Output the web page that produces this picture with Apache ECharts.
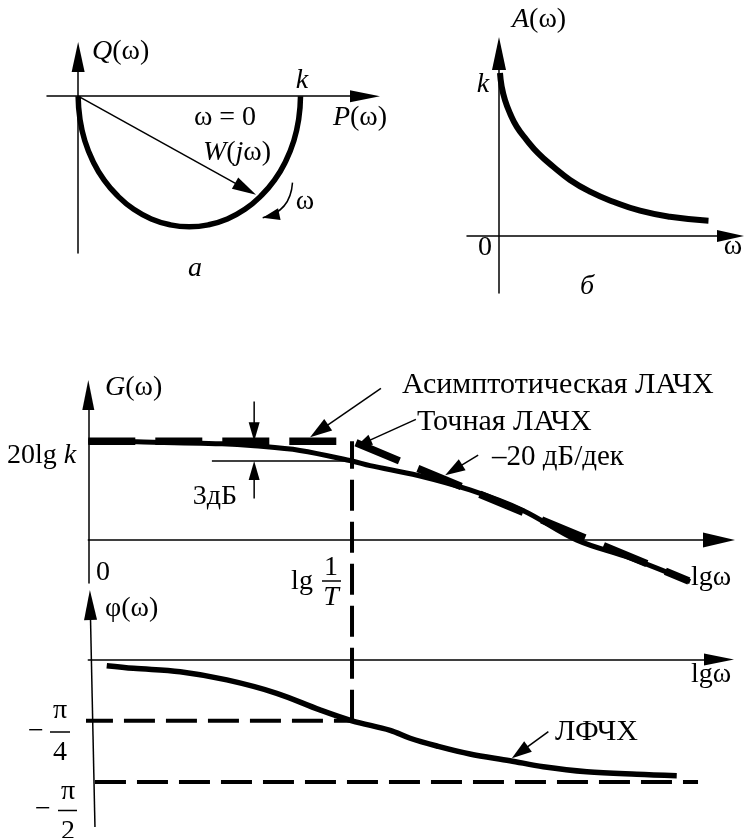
<!DOCTYPE html>
<html>
<head>
<meta charset="utf-8">
<script src="https://cdn.jsdelivr.net/npm/echarts@6/dist/echarts.min.js"></script>
<style>
  html, body { margin: 0; padding: 0; background: #fff; }
  #chart { width: 745px; height: 838px; }
</style>
</head>
<body>
<div id="chart"></div>
<script>
// ---------- а: годограф W(jω), P и Q в долях k ----------
const nyquistP = [0, 0.008, 0.030, 0.067, 0.117, 0.179, 0.250, 0.329, 0.413, 0.500,
                  0.587, 0.671, 0.750, 0.821, 0.883, 0.933, 0.970, 0.992, 1.0];
const nyquistQ = [0, -0.101, -0.199, -0.291, -0.375, -0.446, -0.505, -0.548, -0.574, -0.583,
                  -0.574, -0.548, -0.505, -0.446, -0.375, -0.291, -0.199, -0.101, 0];
const vectorW = [[0, 0], [0.80, -0.44]];
// direction of growing ω: start, end, control point
const omegaTurn = [[0.964, -0.386], [0.830, -0.543], [0.955, -0.516]];

// ---------- б: АЧХ A(ω), A в долях k ----------
const ampOmega = [0.02, 0.054, 0.12, 0.22, 0.354, 0.554, 0.786, 1.086, 1.42, 1.82, 2.286, 2.82, 3.42, 4.19];
const ampA     = [1.0, 0.916, 0.834, 0.753, 0.671, 0.589, 0.507, 0.425, 0.344, 0.272, 0.210, 0.155, 0.118, 0.094];

// ---------- ЛАЧХ G(ω), дБ; абсцисса lgω, декады ----------
const lgCorner = 0.83;   // lg(1/T)
const gainK = 15;        // 20 lg k
const drop3dB = 12;      // 20 lg k − 3 дБ
const asymLg = [0, lgCorner, 1.89];
const asymG  = [gainK, gainK, -6.2];
const exactLg = [0, 0.153, 0.421, 0.522, 0.666, 0.83, 0.887, 1.038, 1.201, 1.368, 1.538, 1.705, 1.894];
const exactG  = [15.0, 14.9, 14.6, 14.3, 13.6, 12.0, 11.3, 9.8, 7.6, 4.5, 0.0, -2.7, -6.3];
const markLg = 0.522;
const dbArrowTop    = [[markLg, 21.0], [markLg, gainK]];
const dbArrowBottom = [[markLg, 6.3], [markLg, drop3dB]];
const dbLevelLine   = [[0.389, drop3dB], [0.817, drop3dB]];
const asymPointer   = [[0.921, 23.0], [0.698, 15.6]];
const exactPointer  = [[1.031, 18.3], [0.843, 14.2]];
const slopePointer  = [[1.227, 12.9], [1.123, 9.85]];

// ---------- ЛФЧХ φ(ω), градусы ----------
const phaseLg  = [0.058, 0.142, 0.289, 0.436, 0.593, 0.729, 0.83, 0.950, 1.013, 1.097, 1.201, 1.327, 1.432, 1.569, 1.726, 1.852];
const phaseDeg = [-4.6, -6.5, -9.0, -15.0, -24.8, -37.0, -45, -52.0, -57.8, -63.5, -69.4, -74.3, -78.7, -82.4, -84.3, -85.3];
const quarterPi = -45, halfPi = -90;
const quarterLine = [[-0.02, quarterPi], [lgCorner, quarterPi]];
const halfLine    = [[0.021, halfPi], [1.919, halfPi]];
const phiAxis     = [[0.021, -123], [0.005, 51]];
const phasePointer = [[1.448, -53.0], [1.333, -72.5]];

const SERIF = '"Liberation Serif", "Times New Roman", serif';
const INK = '#000';
const FS = 28;

const zip = (xs, ys) => xs.map((x, i) => [x, ys[i]]);

function axis(gridIndex, min, max, arrow, show) {
  return {
    type: 'value', gridIndex, min, max,
    axisLine: { show: show !== false, onZero: true, symbol: ['none', 'triangle'],
                symbolSize: arrow, lineStyle: { color: INK, width: 1.5 } },
    axisTick: { show: false }, axisLabel: { show: false }, splitLine: { show: false }
  };
}

function curve(grid, data, width, extra) {
  return Object.assign({
    type: 'line', xAxisIndex: grid, yAxisIndex: grid, data, symbol: 'none',
    clip: false, silent: true, animation: false,
    lineStyle: { color: INK, width, cap: 'butt' }
  }, extra || {});
}

function dashed(grid, data, width, dash, id) {
  return curve(grid, data, width, {
    id, lineStyle: { color: INK, width, type: dash, cap: 'butt', join: 'miter' }
  });
}

// Arrow: thin shaft plus filled head; head = [length, width] in px
function arrow(grid, pts, head, width, curved) {
  return {
    type: 'custom', xAxisIndex: grid, yAxisIndex: grid, clip: false, silent: true,
    data: [pts.flat()],
    renderItem(params, api) {
      const a = api.coord([api.value(0), api.value(1)]);
      const b = api.coord([api.value(2), api.value(3)]);
      let from = a, shaft;
      if (curved) {
        const c = api.coord([api.value(4), api.value(5)]);
        from = c;
        shaft = { type: 'bezierCurve',
                  shape: { x1: a[0], y1: a[1], x2: b[0], y2: b[1], cpx1: c[0], cpy1: c[1] },
                  style: { stroke: INK, fill: null, lineWidth: width } };
      }
      const dx = b[0] - from[0], dy = b[1] - from[1];
      const L = Math.hypot(dx, dy), ux = dx / L, uy = dy / L;
      const bx = b[0] - ux * head[0], by = b[1] - uy * head[0];
      const nx = -uy * head[1] / 2, ny = ux * head[1] / 2;
      if (!curved) {
        shaft = { type: 'line',
                  shape: { x1: a[0], y1: a[1], x2: bx + ux * 2, y2: by + uy * 2 },
                  style: { stroke: INK, lineWidth: width } };
      }
      return { type: 'group', children: [
        shaft,
        { type: 'polygon', shape: { points: [[b[0], b[1]], [bx + nx, by + ny], [bx - nx, by - ny]] },
          style: { fill: INK } }
      ] };
    }
  };
}

function label(text, x, y, align, size) {
  const fs = size || FS;
  return { type: 'text', x, y, silent: true, z: 10,
    style: { text, x: 0, y: 0, fontFamily: SERIF, fontSize: fs, fill: INK,
             align: align || 'center', verticalAlign: 'middle',
             textAlign: align || 'center', textVerticalAlign: 'middle',
             rich: { i: { fontStyle: 'italic', fontFamily: SERIF, fontSize: fs, fill: INK } } } };
}
function bar(x1, x2, y) {
  return { type: 'line', silent: true, shape: { x1, y1: y, x2, y2: y },
           style: { stroke: INK, lineWidth: 1.5 } };
}

const chart = echarts.init(document.getElementById('chart'), null, { renderer: 'canvas' });

const option = {
  animation: false,
  backgroundColor: '#fff',
  grid: [
    { left: 47,   top: 57,   width: 318,   height: 196 },    // а
    { left: 467,  top: 53.5, width: 263.5, height: 239.5 },  // б
    { left: 88.3, top: 395,  width: 630.7, height: 188 },    // ЛАЧХ
    { left: 88.3, top: 605,  width: 630.7, height: 231.6 }   // ЛФЧХ
  ],
  xAxis: [
    axis(0, -0.14, 1.29, [12, 30]),
    axis(1, -0.64, 4.63, [12, 27]),
    axis(2, 0, 1.985, [15, 32]),
    axis(3, 0, 1.985, [12, 30])
  ],
  yAxis: [
    axis(0, -0.70, 0.175, [13, 30]),
    axis(1, -0.35, 1.12, [14, 33]),
    axis(2, -6.5, 22, [12, 30]),
    axis(3, -130, 40, [12, 30], false)
  ],
  series: [
    // а
    curve(0, zip(nyquistP, nyquistQ), 5.5, { smooth: true }),
    arrow(0, vectorW, [24, 13], 1.5),
    arrow(0, omegaTurn, [17, 12], 1.5, true),
    // б
    curve(1, zip(ampOmega, ampA), 6, { smooth: true }),
    // ЛАЧХ
    curve(2, zip(exactLg, exactG), 5, { smooth: 0.35 }),
    dashed(2, zip(asymLg, asymG), 7.5, [47, 20]),
    curve(2, dbLevelLine, 1.5),
    arrow(2, dbArrowTop, [19, 11], 1.5),
    arrow(2, dbArrowBottom, [19, 11], 1.5),
    arrow(2, asymPointer, [22, 14], 1.5),
    arrow(2, exactPointer, [16, 11], 1.5),
    arrow(2, slopePointer, [20, 13], 1.5),
    // ЛФЧХ
    curve(3, zip(phaseLg, phaseDeg), 5.5, { smooth: 0.35 }),
    dashed(3, quarterLine, 4, [31, 11]),
    dashed(3, halfLine, 4, [31, 11]),
    dashed(3, [[lgCorner, quarterPi], [lgCorner, quarterPi]], 4, [31, 11], 'cornerGuide'),
    arrow(3, phiAxis, [30, 13], 1.5),
    arrow(3, phasePointer, [20, 13], 1.5)
  ],
  graphic: { elements: [
    // а
    label('{i|Q}(ω)', 92, 52, 'left'),
    label('{i|k}', 302, 81),
    label('ω = 0', 225, 118),
    label('{i|P}(ω)', 360, 118),
    label('{i|W}({i|j}ω)', 237, 153),
    label('ω', 305, 202),
    label('{i|а}', 195, 269),
    // б
    label('{i|A}(ω)', 512, 20, 'left'),
    label('{i|k}', 483, 85),
    label('0', 485, 248),
    label('ω', 733, 247),
    label('{i|б}', 587, 287),
    // ЛАЧХ
    label('{i|G}(ω)', 105, 388, 'left'),
    label('20lg {i|k}', 7, 456, 'left'),
    label('3дБ', 215, 497),
    label('Асимптотическая ЛАЧХ', 402, 385, 'left', 30),
    label('Точная ЛАЧХ', 417, 422, 'left', 30),
    label('–20 дБ/дек', 492, 457, 'left', 29),
    label('0', 103, 573),
    label('lg', 302, 582),
    label('1', 331, 568),
    bar(322, 341, 581),
    label('{i|T}', 331, 598),
    label('lgω', 711, 578),
    // ЛФЧХ
    label('φ(ω)', 105, 609, 'left'),
    label('lgω', 711, 675),
    label('ЛФЧХ', 555, 732, 'left', 30),
    label('−', 36, 732),
    label('π', 60, 711),
    bar(50, 70, 732),
    label('4', 60, 753),
    label('−', 43, 810),
    label('π', 68, 792),
    bar(58, 77, 810.5),
    label('2', 68, 832)
  ] }
};

chart.setOption(option);

// Guide at lg(1/T): from the 20 lg k level of the ЛАЧХ down to −π/4 of the ЛФЧХ
const cornerPx = chart.convertToPixel({ gridIndex: 2 }, [lgCorner, gainK]);
const cornerInPhase = chart.convertFromPixel({ gridIndex: 3 }, cornerPx);
chart.setOption({ series: [{ id: 'cornerGuide',
  data: [[lgCorner, quarterPi], [lgCorner, cornerInPhase[1]]] }] });
</script>
</body>
</html>
